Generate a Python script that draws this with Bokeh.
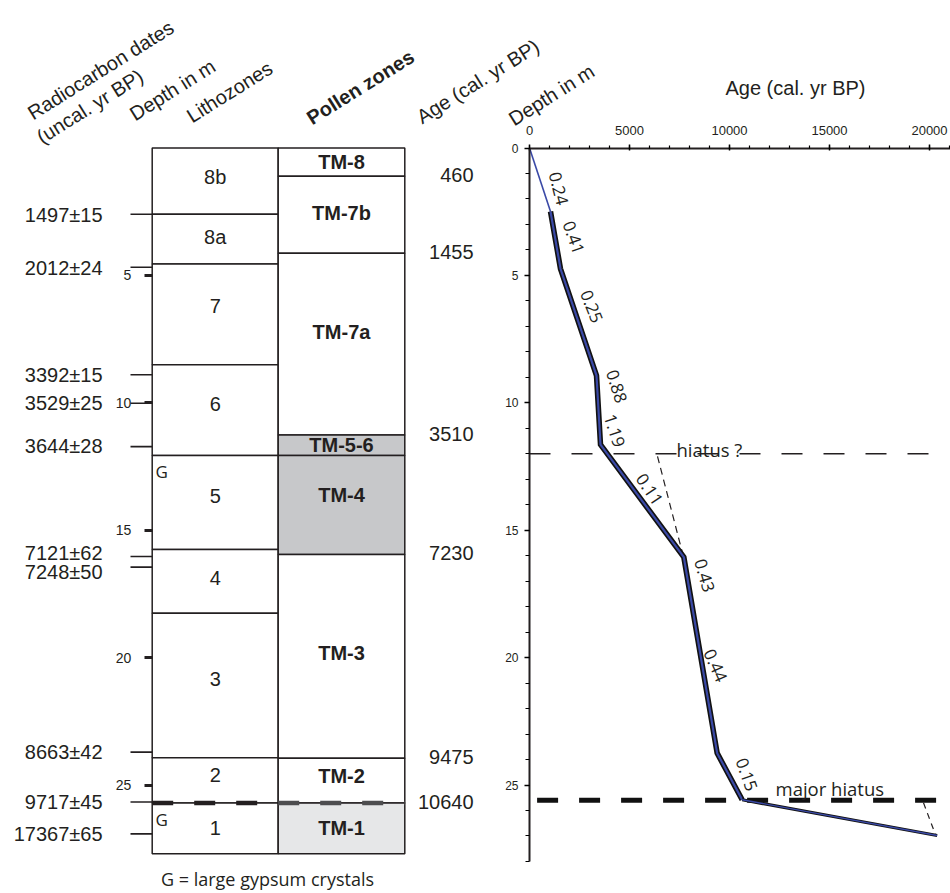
import numpy as np
from bokeh.plotting import figure
from bokeh.models import Range1d, LinearAxis, FixedTicker, SingleIntervalTicker
from bokeh.core.properties import value
from bokeh.embed import file_html
from bokeh.resources import INLINE

# ----------------------------- data -----------------------------
litho_zones = ["8b", "8a", "7", "6", "5", "4", "3", "2", "1"]
litho_bounds = [0.0, 2.60, 4.55, 8.51, 12.07, 15.76, 18.26, 23.93, 25.71, 27.70]

pollen_zones = ["TM-8", "TM-7b", "TM-7a", "TM-5-6", "TM-4", "TM-3", "TM-2", "TM-1"]
pollen_bounds = [0.0, 1.11, 4.13, 11.26, 12.07, 15.95, 23.95, 25.71, 27.70]
pollen_fill = ["white", "white", "white", "#c7c8ca", "#c7c8ca", "white", "white", "#e6e7e8"]

zone_ages = ["460", "1455", "3510", "7230", "9475", "10640"]
zone_age_depths = [1.11, 4.13, 11.26, 15.95, 23.95, 25.71]

c14_dates = ["1497±15", "2012±24", "3392±15", "3529±25", "3644±28",
             "7121±62", "7248±50", "8663±42", "9717±45", "17367±65"]
c14_depths = [2.60, 4.68, 8.90, 10.02, 11.72, 16.03, 16.45, 23.71, 25.67, 26.92]

gypsum_depths = [12.07, 25.71]
table_depth_ticks = [5, 10, 15, 20, 25]

model_age = [0, 1050, 1550, 3350, 3550, 7717, 9383, 10633, 20383]
model_depth = [0, 2.49, 4.74, 8.93, 11.64, 16.06, 23.75, 25.58, 26.98]

rates = ["0.24", "0.41", "0.25", "0.88", "1.19", "0.11", "0.43", "0.44", "0.15"]
rate_depths = [1.59, 3.51, 6.22, 9.36, 11.09, 13.40, 16.78, 20.31, 24.59]

hiatus_depth = 12.0
hiatus_span = [0, 20200]
hiatus_guide_age = [6400, 7650]
hiatus_guide_depth = [12.1, 15.9]

major_hiatus_depth = 25.6
major_hiatus_span = [380, 20450]
major_guide_age = [19700, 20300]
major_guide_depth = [25.7, 26.95]

headers = ["Radiocarbon dates", "(uncal. yr BP)", "Depth in m", "Lithozones",
           "Pollen zones", "Age (cal. yr BP)", "Depth in m"]

# ----------------------------- layout -----------------------------
W, H = 950, 893
L, T = 70, 90
IMG_X_AGE0 = 529.0
AGE_PER_PX = 50.0
IMG_Y_DEPTH0 = 147.5
PX_PER_M = 25.48


def depth_at(img_y):
    return (img_y - IMG_Y_DEPTH0) / PX_PER_M


def age_at(img_x):
    return (img_x - IMG_X_AGE0) * AGE_PER_PX


fl, fr, ft, fb = L, W, T, H

p = figure(width=W, height=H, output_backend="svg", toolbar_location=None,
           x_range=Range1d(age_at(fl), age_at(fr)),
           y_range=Range1d(depth_at(fb), depth_at(ft)),
           x_axis_type=None, y_axis_type=None,
           min_border_left=L, min_border_top=T, min_border_right=0, min_border_bottom=0)
p.outline_line_color = None
p.background_fill_color = "white"
p.border_fill_color = "white"
p.extra_x_ranges = {"px": Range1d(fl, fr)}

INK = "#231f20"
BLUE = "#3a49a6"
ARIAL_S = "Liberation Sans"
ARIAL = value(ARIAL_S)
MYRIAD = value("Open Sans")

# ---- axes of the age-depth plot ----
xa = LinearAxis(fixed_location=0, bounds=(0, age_at(fr)),
                ticker=SingleIntervalTicker(interval=5000, num_minor_ticks=5))
xa.axis_line_width = 2
xa.axis_line_color = INK
xa.major_tick_out = 4
xa.major_tick_in = 2
xa.major_tick_line_width = 1.5
xa.minor_tick_out = 3
xa.minor_tick_in = 0
xa.minor_tick_line_width = 1.2
xa.major_label_text_font = ARIAL_S
xa.major_label_text_font_size = "13px"
xa.major_label_text_color = INK
xa.major_label_standoff = 9
p.add_layout(xa, "above")

ya = LinearAxis(fixed_location=0, bounds=(0, 28),
                ticker=SingleIntervalTicker(interval=5, num_minor_ticks=5))
ya.axis_line_width = 2
ya.axis_line_color = INK
ya.major_tick_out = 5
ya.major_tick_in = 0
ya.major_tick_line_width = 1.5
ya.minor_tick_out = 4
ya.minor_tick_in = 0
ya.minor_tick_line_width = 1.2
ya.major_label_text_font = ARIAL_S
ya.major_label_text_font_size = "12px"
ya.major_label_text_color = INK
ya.major_label_standoff = 6
p.add_layout(ya, "left")

# axis title of the age axis
p.text(x=[age_at(795)], y=[depth_at(87)], text=["Age (cal. yr BP)"],
       text_align="center", text_baseline="middle", text_font=ARIAL,
       text_font_size="20px", text_color=INK, level="overlay")

# ---- depth scale beside the lithology column ----
ta = LinearAxis(x_range_name="px", fixed_location=151.7,
                ticker=FixedTicker(ticks=table_depth_ticks, minor_ticks=[]))
ta.axis_line_color = None
ta.major_tick_out = 8
ta.major_tick_in = 0
ta.major_tick_line_width = 3
ta.major_tick_line_color = INK
ta.minor_tick_line_color = None
ta.major_label_text_font = ARIAL_S
ta.major_label_text_font_size = "14px"
ta.major_label_text_color = INK
ta.major_label_standoff = 13
p.add_layout(ta, "left")

# ---- lithozone and pollen columns ----
LITHO_L, MID, POLL_R = 151.7, 277.7, 404.3
p.quad(left=LITHO_L, right=MID, top=litho_bounds[:-1], bottom=litho_bounds[1:],
       x_range_name="px", fill_color="white", line_color=INK, line_width=1.5)
p.quad(left=MID, right=POLL_R, top=pollen_bounds[:-1], bottom=pollen_bounds[1:],
       x_range_name="px", fill_color=pollen_fill, line_color=INK, line_width=1.5)

litho_mid = [(a + b) / 2 for a, b in zip(litho_bounds[:-1], litho_bounds[1:])]
litho_dy = [-4.5, -2, -8, -6, -7, -3, -7, -5, 0]
p.text(x=[(LITHO_L + MID) / 2] * len(litho_zones), y=litho_mid, text=litho_zones,
       y_offset=litho_dy, x_range_name="px", text_align="center", text_baseline="middle",
       text_font=ARIAL, text_font_size="20px", text_color=INK)

pollen_mid = [(a + b) / 2 for a, b in zip(pollen_bounds[:-1], pollen_bounds[1:])]
pollen_dy = [0, -1.5, -12, 0, -9.5, -3, -5, 0]
p.text(x=[(MID + POLL_R) / 2] * len(pollen_zones), y=pollen_mid, text=pollen_zones,
       y_offset=pollen_dy, x_range_name="px", text_align="center", text_baseline="middle",
       text_font=ARIAL, text_font_size="20px", text_font_style="bold", text_color=INK)

# dashed boundary (major hiatus) across the columns
bd = litho_bounds[8]
p.line(x=[LITHO_L, MID], y=[bd, bd], x_range_name="px", line_color=INK,
       line_width=4.5, line_dash="21 21")
p.line(x=[MID, POLL_R], y=[bd, bd], x_range_name="px", line_color="#4d4d4f",
       line_width=4.5, line_dash="21 21")

# gypsum markers
p.text(x=[155] * len(gypsum_depths), y=gypsum_depths, text=["G"] * len(gypsum_depths),
       y_offset=16, x_range_name="px", text_align="left", text_baseline="alphabetic",
       text_font=MYRIAD, text_font_size="17px", text_color=INK)

# ---- radiocarbon dates ----
p.segment(x0=130, x1=LITHO_L, y0=c14_depths, y1=c14_depths, x_range_name="px",
          line_color=INK, line_width=1.6)
c14_dy = [1, 0.5, 0, 0, -1, -3.5, 5, 0, 0, 0]
p.text(x=[102] * len(c14_dates), y=c14_depths, text=c14_dates, y_offset=c14_dy,
       x_range_name="px", text_align="right", text_baseline="middle",
       text_font=ARIAL, text_font_size="20px", text_color=INK, level="overlay")

# ---- calibrated ages at pollen zone boundaries ----
p.text(x=[473] * len(zone_ages), y=zone_age_depths, text=zone_ages, y_offset=-1,
       x_range_name="px", text_align="right", text_baseline="middle",
       text_font=ARIAL, text_font_size="20px", text_color=INK)

# ---- rotated column headers ----
hx = [29, 38, 131, 188, 308, 418, 510]
hy = [depth_at(v) for v in [114, 138, 115, 117, 119, 118, 120]]
hstyle = ["normal", "normal", "normal", "normal", "bold", "normal", "normal"]
p.text(x=hx, y=hy, text=headers, angle=np.deg2rad(32), x_range_name="px",
       text_align="left", text_baseline="alphabetic", text_font=ARIAL,
       text_font_size="20px", text_font_style=hstyle, text_color=INK, level="overlay")

# ---- footnote ----
p.text(x=[267], y=[depth_at(878)], text=["G = large gypsum crystals"], x_range_name="px",
       text_align="center", text_baseline="middle", text_font=MYRIAD,
       text_font_size="18px", text_color=INK, level="overlay")

# ---- age-depth model ----
p.line(x=hiatus_span, y=[hiatus_depth] * 2, line_color=INK, line_width=1.5, line_dash="21 21")
p.line(x=hiatus_guide_age, y=hiatus_guide_depth, line_color=INK, line_width=1.2, line_dash="7 5")
p.line(x=major_hiatus_span, y=[major_hiatus_depth] * 2, line_color="#111111",
       line_width=5, line_dash="21 21")
p.line(x=major_guide_age, y=major_guide_depth, line_color=INK, line_width=1.2, line_dash="6 5")

p.line(x=model_age[:2], y=model_depth[:2], line_color=BLUE, line_width=1.6)
p.line(x=model_age[1:8], y=model_depth[1:8], line_color="#111111", line_width=5.5,
       line_join="miter")
p.line(x=model_age[1:8], y=model_depth[1:8], line_color=BLUE, line_width=2.2,
       line_join="miter")
p.line(x=model_age[7:], y=model_depth[7:], line_color="#111111", line_width=3.2)
p.line(x=model_age[7:], y=model_depth[7:], line_color=BLUE, line_width=1.4)

rate_x = np.interp(rate_depths, model_depth, model_age)
rate_dx = [15.6, 18.5, 18.3, 19.4, 14.8, 15.8, 17.5, 13.2, 17.9]
rate_ang = np.deg2rad([-76, -70, -68, -72, -72, -56, -74, -66, -70])
p.text(x=rate_x, y=rate_depths, text=rates, x_offset=rate_dx, angle=rate_ang,
       text_align="center", text_baseline="middle", text_font=MYRIAD,
       text_font_size="17px", text_color=INK)

p.text(x=[age_at(676)], y=[hiatus_depth], text=["hiatus  ?"],
       y_offset=-4.5, text_align="left", text_baseline="alphabetic",
       text_font=MYRIAD, text_font_size="18.5px", text_color=INK)
p.text(x=[age_at(775)], y=[major_hiatus_depth], text=["major  hiatus"],
       y_offset=-12, text_align="left", text_baseline="alphabetic",
       text_font=MYRIAD, text_font_size="18.5px", text_color=INK)

open("out.html", "w").write(file_html(p, INLINE))
